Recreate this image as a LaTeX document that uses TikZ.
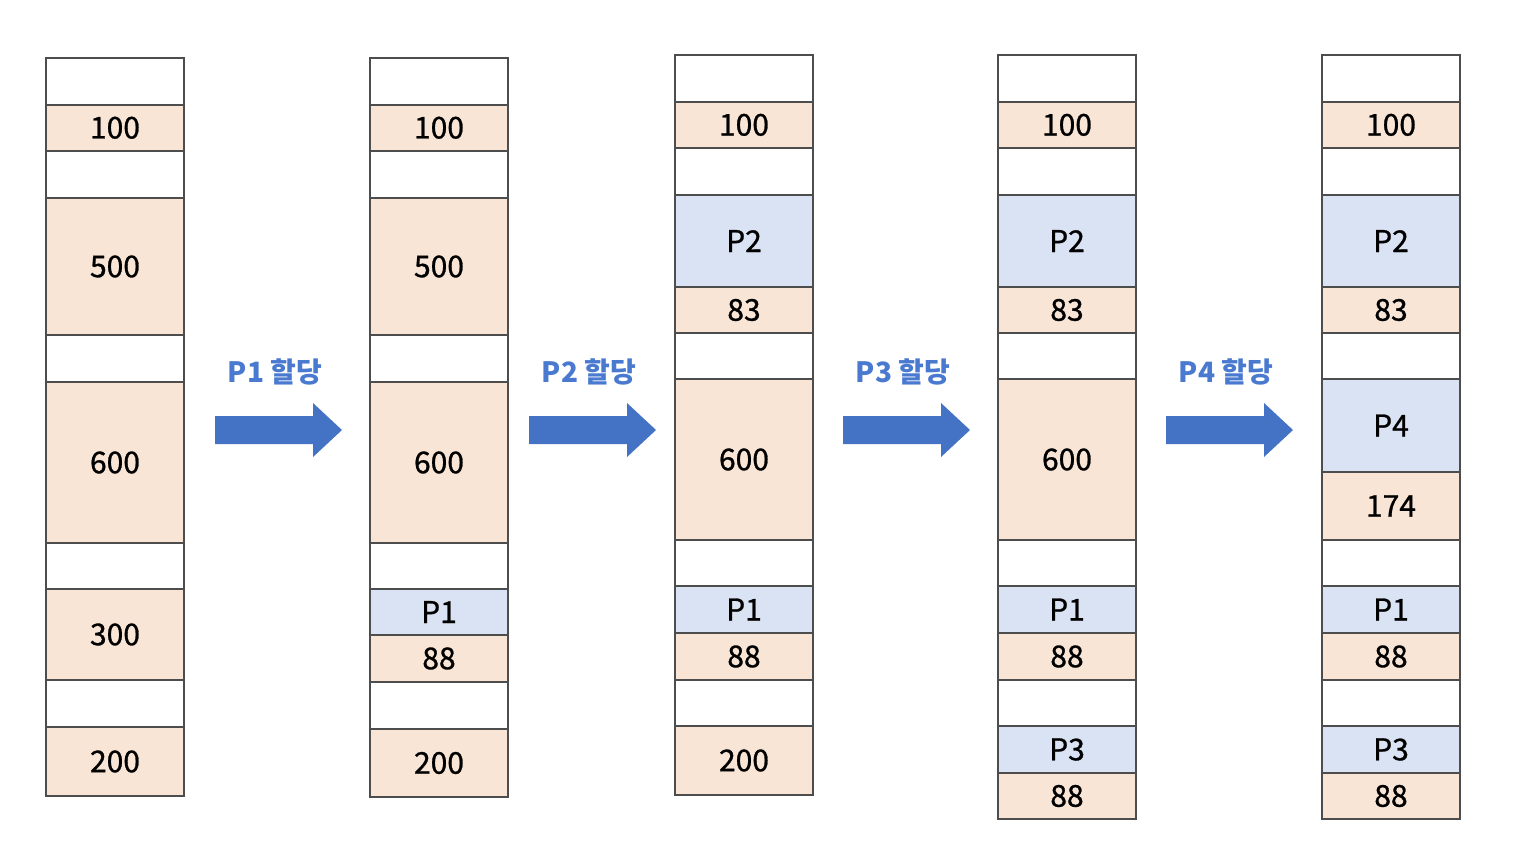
\documentclass[tikz,border=0pt]{standalone}
\usepackage{fontspec}
\setmainfont{Noto Sans CJK KR}
\newfontfamily\cellfont{Noto Sans CJK KR}[FakeBold=0.9]
\definecolor{peach}{HTML}{F8E5D6}
\definecolor{pblue}{HTML}{DAE3F3}
\definecolor{edge}{HTML}{4D4D4D}
\definecolor{arrblue}{HTML}{4472C4}
\definecolor{labblue}{HTML}{4A7AD0}
\tikzset{
  cell/.style={draw=edge, line width=1pt, rectangle, inner sep=0pt, outer sep=0pt,
    minimum width=69pt, font=\cellfont\fontsize{15}{17}\selectfont},
  free/.style={cell, fill=white},
  hole/.style={cell, fill=peach},
  proc/.style={cell, fill=pblue},
  steplabel/.style={text=labblue, font=\fontsize{14}{16}\selectfont\bfseries},
  bigarrow/.style={fill=arrblue, draw=none}
}
% name, left x, top, bottom, style, text
\newcommand{\cellbox}[6]{%
  \node[#5, minimum height={(#4-#3)*0.5pt}] (#1) at ({#2+69},{(#3+#4)/2}) {#6};}
\newcommand{\bigarr}[2]{%
  \fill[bigarrow] (#2,416) -- ++(98,0) -- ++(0,-13) -- ++(29,27) -- ++(-29,27) -- ++(0,-13) -- ++(-98,0) -- cycle;}
\begin{document}
\begin{tikzpicture}[x=0.5pt,y=-0.5pt]
\useasboundingbox (0,0) rectangle (1516,864);
% column 1
\cellbox{a1}{46}{58}{104.5}{free}{}
\cellbox{a2}{46}{104.5}{151}{hole}{100}
\cellbox{a3}{46}{151}{198}{free}{}
\cellbox{a4}{46}{198}{335}{hole}{500}
\cellbox{a5}{46}{335}{382}{free}{}
\cellbox{a6}{46}{382}{543}{hole}{600}
\cellbox{a7}{46}{543}{589}{free}{}
\cellbox{a8}{46}{589}{680}{hole}{300}
\cellbox{a9}{46}{680}{727}{free}{}
\cellbox{a10}{46}{727}{796}{hole}{200}
% column 2
\cellbox{b1}{370}{58}{104.5}{free}{}
\cellbox{b2}{370}{104.5}{151}{hole}{100}
\cellbox{b3}{370}{151}{198}{free}{}
\cellbox{b4}{370}{198}{335}{hole}{500}
\cellbox{b5}{370}{335}{382}{free}{}
\cellbox{b6}{370}{382}{543}{hole}{600}
\cellbox{b7}{370}{543}{589}{free}{}
\cellbox{b8}{370}{589}{635}{proc}{P1}
\cellbox{b9}{370}{635}{682}{hole}{88}
\cellbox{b10}{370}{682}{729}{free}{}
\cellbox{b11}{370}{729}{797}{hole}{200}
% column 3
\cellbox{c1}{675}{55}{101.7}{free}{}
\cellbox{c2}{675}{101.7}{148}{hole}{100}
\cellbox{c3}{675}{148}{195}{free}{}
\cellbox{c4}{675}{195}{287}{proc}{P2}
\cellbox{c5}{675}{287}{333}{hole}{83}
\cellbox{c6}{675}{333}{379}{free}{}
\cellbox{c7}{675}{379}{540}{hole}{600}
\cellbox{c8}{675}{540}{586}{free}{}
\cellbox{c9}{675}{586}{633}{proc}{P1}
\cellbox{c10}{675}{633}{680}{hole}{88}
\cellbox{c11}{675}{680}{726}{free}{}
\cellbox{c12}{675}{726}{795}{hole}{200}
% column 4
\cellbox{d1}{998}{55}{101.7}{free}{}
\cellbox{d2}{998}{101.7}{148}{hole}{100}
\cellbox{d3}{998}{148}{195}{free}{}
\cellbox{d4}{998}{195}{287}{proc}{P2}
\cellbox{d5}{998}{287}{333}{hole}{83}
\cellbox{d6}{998}{333}{379}{free}{}
\cellbox{d7}{998}{379}{540}{hole}{600}
\cellbox{d8}{998}{540}{586}{free}{}
\cellbox{d9}{998}{586}{633}{proc}{P1}
\cellbox{d10}{998}{633}{680}{hole}{88}
\cellbox{d11}{998}{680}{726}{free}{}
\cellbox{d12}{998}{726}{773}{proc}{P3}
\cellbox{d13}{998}{773}{819}{hole}{88}
% column 5
\cellbox{e1}{1322}{55}{101.7}{free}{}
\cellbox{e2}{1322}{101.7}{148}{hole}{100}
\cellbox{e3}{1322}{148}{195}{free}{}
\cellbox{e4}{1322}{195}{287}{proc}{P2}
\cellbox{e5}{1322}{287}{333}{hole}{83}
\cellbox{e6}{1322}{333}{379}{free}{}
\cellbox{e7}{1322}{379}{472}{proc}{P4}
\cellbox{e8}{1322}{472}{540}{hole}{174}
\cellbox{e9}{1322}{540}{586}{free}{}
\cellbox{e10}{1322}{586}{633}{proc}{P1}
\cellbox{e11}{1322}{633}{680}{hole}{88}
\cellbox{e12}{1322}{680}{726}{free}{}
\cellbox{e13}{1322}{726}{773}{proc}{P3}
\cellbox{e14}{1322}{773}{819}{hole}{88}
% arrows and labels
\bigarr{1}{215}
\bigarr{2}{529}
\bigarr{3}{843}
\bigarr{4}{1166}
\node[steplabel] (l1) at (275,372) {P1 할당};
\node[steplabel] (l2) at (589,372) {P2 할당};
\node[steplabel] (l3) at (903,372) {P3 할당};
\node[steplabel] (l4) at (1226,372) {P4 할당};
\end{tikzpicture}
\end{document}
